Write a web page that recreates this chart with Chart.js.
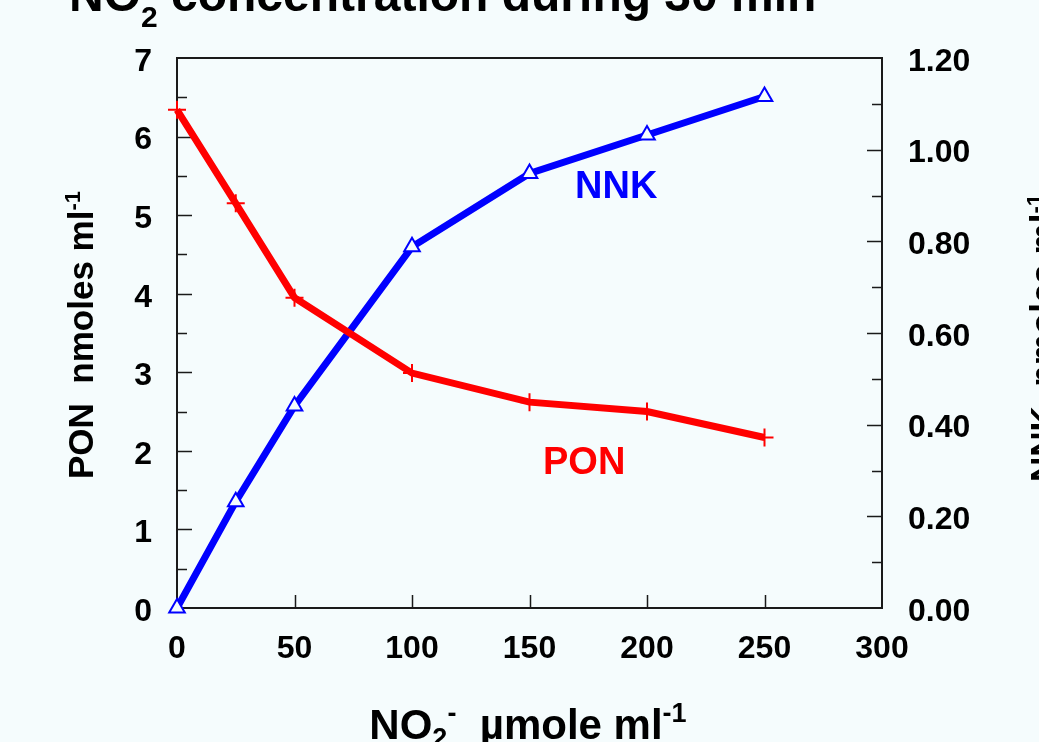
<!DOCTYPE html>
<html>
<head>
<meta charset="utf-8">
<script src="https://cdn.jsdelivr.net/npm/chart.js@4.4.1/dist/chart.umd.min.js"></script>
<style>
html,body{margin:0;padding:0;background:#f5fcfd;}
canvas{display:block;}
</style>
</head>
<body>
<canvas id="c" width="1039" height="742"></canvas>
<script>
// ---- data ----
const no2Conc = [0, 25, 50, 100, 150, 200, 250];
const ponValues = [6.34, 5.15, 3.95, 2.99, 2.62, 2.50, 2.17];
const nnkValues = [0.00, 0.232, 0.441, 0.788, 0.948, 1.032, 1.116];
const xTicks = [0, 50, 100, 150, 200, 250, 300];
const leftTicks = [0, 1, 2, 3, 4, 5, 6, 7];
const rightTicks = [0, 0.2, 0.4, 0.6, 0.8, 1.0, 1.2];

const BG = '#f5fcfd';
const FONT = '"Liberation Sans", Arial, sans-serif';

function drawRich(ctx, parts, x, y, align) {
  let w = 0;
  parts.forEach(p => { ctx.font = 'bold ' + p.size + 'px ' + FONT; p.w = ctx.measureText(p.t).width; w += p.w; });
  let cx = align === 'center' ? x - w / 2 : x;
  parts.forEach(p => {
    ctx.font = 'bold ' + p.size + 'px ' + FONT;
    ctx.fillText(p.t, cx, y + (p.dy || 0));
    cx += p.w;
  });
}

const decor = {
  id: 'decor',
  beforeDraw(chart) {
    const ctx = chart.ctx;
    ctx.save();
    ctx.fillStyle = BG;
    ctx.fillRect(0, 0, chart.width, chart.height);
    ctx.restore();
  },
  beforeDatasetsDraw(chart) {
    const ctx = chart.ctx, a = chart.chartArea;
    const sx = chart.scales.x, sy = chart.scales.y, sy1 = chart.scales.y1;
    ctx.save();
    ctx.strokeStyle = '#1a1a1a';
    ctx.lineWidth = 1.5;
    ctx.beginPath();
    for (let v = 0.5; v < 7; v += 0.5) {
      const py = Math.round(sy.getPixelForValue(v)) + 0.5;
      const len = Number.isInteger(v) ? 15 : 10;
      ctx.moveTo(a.left, py); ctx.lineTo(a.left + len, py);
    }
    for (let i = 1; i < 12; i++) {
      const v = i / 10;
      const py = Math.round(sy1.getPixelForValue(v)) + 0.5;
      const len = (i % 2 === 0) ? 15 : 10;
      ctx.moveTo(a.right, py); ctx.lineTo(a.right - len, py);
    }
    xTicks.forEach(v => {
      if (v === 0 || v === 300) return;
      const px = Math.round(sx.getPixelForValue(v)) + 0.5;
      ctx.moveTo(px, a.bottom); ctx.lineTo(px, a.bottom - 13);
    });
    ctx.stroke();
    ctx.lineWidth = 2;
    ctx.strokeRect(a.left, a.top, a.right - a.left, a.bottom - a.top);
    ctx.restore();
  },
  afterDraw(chart) {
    const ctx = chart.ctx;
    ctx.save();
    ctx.fillStyle = '#000';
    ctx.textBaseline = 'alphabetic';
    // chart title (cut off at top)
    drawRich(ctx, [
      {t: 'NO', size: 48},
      {t: '2', size: 30, dy: 16},
      {t: ' concentration during 30 min', size: 48}
    ], 69, 11, 'left');
    // x axis title
    drawRich(ctx, [
      {t: 'NO', size: 42},
      {t: '2', size: 27, dy: 8},
      {t: '-', size: 27, dy: -17},
      {t: '  \u00b5mole ml', size: 42},
      {t: '-1', size: 27, dy: -17}
    ], 528, 739, 'center');
    // left y title
    ctx.save();
    ctx.translate(93, 335);
    ctx.rotate(-Math.PI / 2);
    drawRich(ctx, [
      {t: 'PON  nmoles ml', size: 35},
      {t: '-1', size: 22, dy: -13}
    ], 0, 0, 'center');
    ctx.restore();
    // right y title
    ctx.save();
    ctx.translate(1055, 338);
    ctx.rotate(-Math.PI / 2);
    drawRich(ctx, [
      {t: 'NNK  nmoles ml', size: 35},
      {t: '-1', size: 22, dy: -13}
    ], 0, 0, 'center');
    ctx.restore();
    // series labels
    ctx.textAlign = 'left';
    ctx.font = 'bold 38px ' + FONT;
    ctx.fillStyle = '#0000ff';
    ctx.fillText('NNK', 575, 198);
    ctx.fillStyle = '#ff0000';
    ctx.fillText('PON', 543, 474);
    ctx.restore();
  }
};

const tickFont = {family: FONT, size: 32, weight: 'bold'};

new Chart(document.getElementById('c'), {
  type: 'line',
  data: {
    datasets: [
      {
        label: 'PON',
        data: no2Conc.map((x, i) => ({x: x, y: ponValues[i]})),
        yAxisID: 'y',
        borderColor: '#ff0000',
        borderWidth: 7,
        tension: 0,
        pointStyle: 'cross',
        pointRadius: 9,
        pointBorderWidth: 2,
        pointBorderColor: '#ff0000',
        pointBackgroundColor: '#ff0000',
        clip: false
      },
      {
        label: 'NNK',
        data: no2Conc.map((x, i) => ({x: x, y: nnkValues[i]})),
        yAxisID: 'y1',
        borderColor: '#0000ff',
        borderWidth: 7,
        tension: 0,
        pointStyle: 'triangle',
        pointRadius: 9,
        pointBorderWidth: 2,
        pointBorderColor: '#0000ff',
        pointBackgroundColor: BG,
        clip: false
      }
    ]
  },
  options: {
    responsive: false,
    devicePixelRatio: 1,
    animation: false,
    layout: {padding: {top: 58, left: 0, right: 0, bottom: 0}},
    plugins: {legend: {display: false}, tooltip: {enabled: false}, title: {display: false}},
    scales: {
      x: {
        type: 'linear', min: 0, max: 300,
        afterBuildTicks: s => { s.ticks = xTicks.map(v => ({value: v})); },
        afterFit: s => { s.height = 134; },
        grid: {display: false, drawTicks: false},
        border: {display: false},
        ticks: {font: tickFont, color: '#000', padding: 22, maxRotation: 0, autoSkip: false}
      },
      y: {
        type: 'linear', position: 'left', min: 0, max: 7,
        afterBuildTicks: s => { s.ticks = leftTicks.map(v => ({value: v})); },
        afterFit: s => { s.width = 177; },
        grid: {display: false, drawTicks: false},
        border: {display: false},
        ticks: {font: tickFont, color: '#000', padding: 25, labelOffset: 4}
      },
      y1: {
        type: 'linear', position: 'right', min: 0, max: 1.2,
        afterBuildTicks: s => { s.ticks = rightTicks.map(v => ({value: v})); },
        afterFit: s => { s.width = 157; },
        grid: {display: false, drawTicks: false},
        border: {display: false},
        ticks: {font: tickFont, color: '#000', padding: 26, labelOffset: 4,
          callback: v => Number(v).toFixed(2)}
      }
    }
  },
  plugins: [decor]
});
</script>
</body>
</html>
